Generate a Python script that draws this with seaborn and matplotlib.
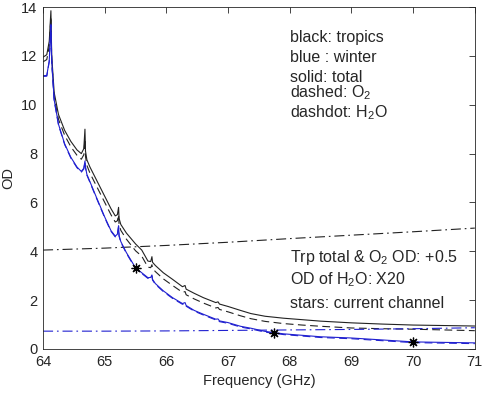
import numpy as np
import pandas as pd
import matplotlib
matplotlib.use('Agg')
import matplotlib.pyplot as plt
import seaborn as sns

# frequency grid (GHz), denser around the O2 lines
freq = [64.0, 64.06, 64.10, 64.127, 64.14, 64.18, 64.25, 64.35, 64.45, 64.55,
        64.62, 64.66, 64.679, 64.688, 64.71, 64.76, 64.85, 65.0, 65.1, 65.17,
        65.205, 65.224, 65.232, 65.26, 65.35, 65.5, 65.6, 65.70, 65.745, 65.765,
        65.775, 65.82, 65.95, 66.1, 66.26, 66.302, 66.32, 66.45, 66.6, 66.8,
        66.837, 66.86, 67.0, 67.2, 67.37, 67.6, 67.9, 68.2, 68.5, 69.0,
        69.5, 70.0, 70.5, 71.0]

# tropics total (+0.5)
trp_total = [11.95, 12.05, 12.6, 13.85, 12.0, 10.5, 9.6, 8.95, 8.5, 8.15,
             8.0, 8.2, 9.0, 8.1, 7.75, 7.45, 7.0, 6.25, 5.75, 5.45,
             5.5, 5.8, 5.35, 5.1, 4.75, 4.3, 4.05, 3.6, 3.58, 3.78,
             3.55, 3.42, 3.12, 2.85, 2.55, 2.6, 2.45, 2.28, 2.1, 1.9,
             1.93, 1.84, 1.74, 1.58, 1.45, 1.34, 1.26, 1.2, 1.14, 1.07,
             1.02, 0.98, 0.96, 0.94]

# tropics O2 (+0.5)
trp_o2 = [11.76, 11.85, 12.4, 13.6, 11.8, 10.3, 9.4, 8.75, 8.28, 7.93,
          7.77, 7.95, 8.6, 7.88, 7.52, 7.2, 6.75, 6.0, 5.5, 5.2,
          5.25, 5.5, 5.1, 4.86, 4.5, 4.02, 3.8, 3.35, 3.33, 3.45,
          3.3, 3.17, 2.87, 2.6, 2.32, 2.35, 2.22, 2.05, 1.88, 1.68,
          1.7, 1.62, 1.52, 1.36, 1.24, 1.13, 1.04, 0.98, 0.93, 0.86,
          0.83, 0.81, 0.78, 0.75]

# winter total
win_total = [11.19, 11.2, 11.8, 13.3, 11.8, 10.2, 9.2, 8.4, 7.85, 7.45,
             7.27, 7.4, 7.7, 7.45, 7.15, 6.85, 6.3, 5.4, 4.85, 4.62,
             4.7, 5.05, 4.65, 4.4, 3.95, 3.32, 3.12, 2.92, 2.93, 3.03,
             2.85, 2.68, 2.38, 2.1, 1.86, 1.9, 1.78, 1.58, 1.42, 1.22,
             1.23, 1.15, 1.08, 0.93, 0.85, 0.72, 0.62, 0.56, 0.5, 0.45,
             0.37, 0.29, 0.27, 0.25]

# winter O2
win_o2 = [11.16, 11.17, 11.76, 13.25, 11.76, 10.17, 9.17, 8.37, 7.82, 7.42,
          7.24, 7.37, 7.66, 7.42, 7.12, 6.82, 6.27, 5.37, 4.82, 4.59,
          4.67, 5.01, 4.62, 4.37, 3.92, 3.29, 3.09, 2.89, 2.9, 2.99,
          2.82, 2.65, 2.35, 2.07, 1.83, 1.87, 1.75, 1.55, 1.39, 1.19,
          1.2, 1.12, 1.05, 0.9, 0.82, 0.69, 0.59, 0.53, 0.47, 0.42,
          0.34, 0.26, 0.24, 0.22]

# H2O (x20)
h2o_freq = [64, 65, 66, 67, 68, 69, 70, 71]
trp_h2o = [4.05, 4.13, 4.24, 4.37, 4.52, 4.66, 4.8, 4.95]
win_h2o = [0.73, 0.73, 0.74, 0.76, 0.78, 0.8, 0.83, 0.87]

# current channels
star_freq = [65.5, 67.75, 70.0]
star_od = [3.32, 0.67, 0.29]

sns.set_style('white')
plt.rcParams['font.family'] = ['Liberation Sans', 'DejaVu Sans']
plt.rcParams['mathtext.default'] = 'regular'

fig = plt.figure(figsize=(4.84, 3.93), dpi=100)
ax = fig.add_axes([0.089, 0.112, 0.892, 0.870])

lw = 0.8
blk = '#222222'
blu = '#2020d0'
dash = (7, 4)
dashdot = (9, 3.5, 1.5, 3.5)
sns.lineplot(x=freq, y=trp_total, color=blk, linewidth=lw, ax=ax)
sns.lineplot(x=freq, y=trp_o2, color=blk, linewidth=lw, dashes=dash, ax=ax)
sns.lineplot(x=h2o_freq, y=trp_h2o, color=blk, linewidth=lw, dashes=dashdot, ax=ax)
sns.lineplot(x=freq, y=win_total, color=blu, linewidth=lw, ax=ax)
sns.lineplot(x=freq, y=win_o2, color=blu, linewidth=lw, dashes=dash, ax=ax)
sns.lineplot(x=h2o_freq, y=win_h2o, color=blu, linewidth=lw, dashes=dashdot, ax=ax)
ax.plot(star_freq, star_od, linestyle='none', marker=(8, 2, 0), markersize=7,
        color='k', markeredgewidth=0.9)

ax.set_xlim(64, 71)
ax.set_ylim(0, 14)
ax.set_xticks(range(64, 72))
ax.set_yticks(range(0, 15, 2))
ax.set_xlabel('Frequency (GHz)', fontsize=10.5, color='#262626')
ax.set_ylabel('OD', fontsize=10.5, color='#262626')
ax.tick_params(direction='in', top=True, right=True, length=4, width=0.6,
               labelsize=10.5, colors='#262626', pad=4)
for s in ax.spines.values():
    s.set_color('#262626')
    s.set_linewidth(0.6)

fs = 11.5
ax.text(68.0, 12.55, 'black: tropics', fontsize=fs)
ax.text(68.0, 11.77, 'blue : winter', fontsize=fs)
ax.text(68.0, 10.95, 'solid: total', fontsize=fs)
ax.text(68.0, 10.3, r'dashed: O$_2$', fontsize=fs)
ax.text(68.0, 9.48, r'dashdot: H$_2$O', fontsize=fs)
ax.text(68.0, 3.58, r'Trp total & O$_2$ OD: +0.5', fontsize=fs)
ax.text(68.0, 2.65, r'OD of H$_2$O: X20', fontsize=fs)
ax.text(68.0, 1.67, 'stars: current channel', fontsize=fs)

fig.savefig('out.png', dpi=100)
